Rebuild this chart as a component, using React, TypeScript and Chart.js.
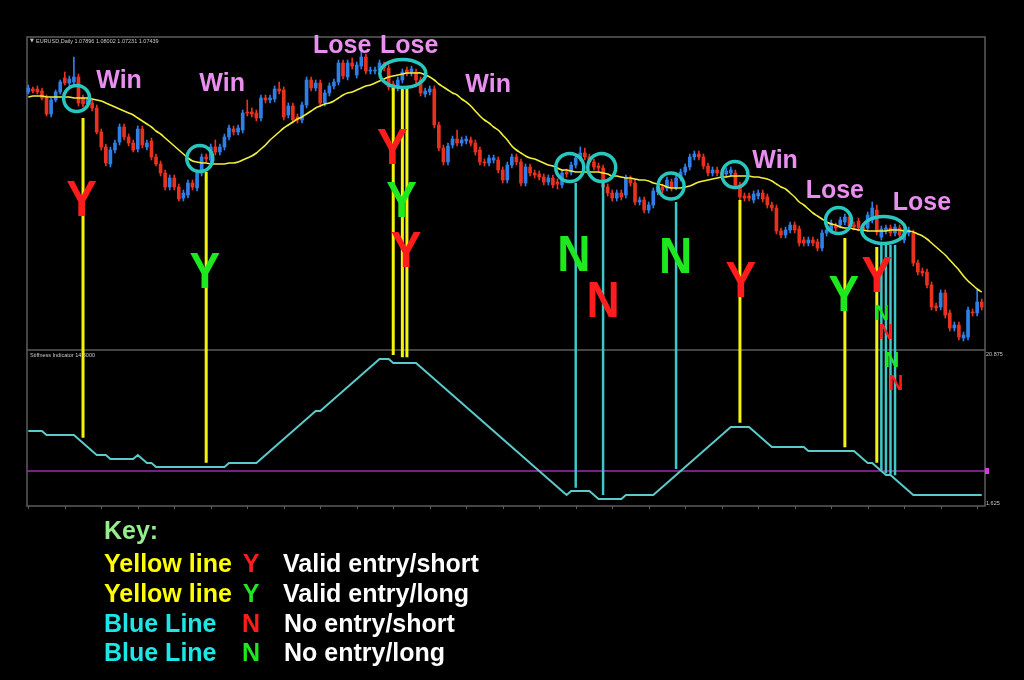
import React, { useEffect, useRef } from 'react';
import { Chart, registerables } from 'chart.js';

Chart.register(...registerables);

// ---------------- data ----------------
const SYMBOL_HEADER = 'EURUSD,Daily 1.07896 1.08002 1.07231 1.07439';
const INDICATOR_TITLE = 'Stiffness Indicator 14 3000';

const OPEN = [
  1.1316, 1.1322, 1.1322, 1.1318, 1.1304, 1.1272, 1.1300, 1.1316, 1.1344, 1.1334,
  1.1336, 1.1346, 1.1304, 1.1292, 1.1294, 1.1284, 1.1236, 1.1206, 1.1172, 1.1200,
  1.1216, 1.1246, 1.1226, 1.1214, 1.1202, 1.1242, 1.1206, 1.1218, 1.1186, 1.1172,
  1.1154, 1.1126, 1.1144, 1.1126, 1.1104, 1.1110, 1.1134, 1.1124, 1.1154, 1.1186,
  1.1180, 1.1206, 1.1196, 1.1206, 1.1226, 1.1242, 1.1236, 1.1240, 1.1276, 1.1276,
  1.1274, 1.1264, 1.1304, 1.1300, 1.1302, 1.1322, 1.1320, 1.1270, 1.1288, 1.1266,
  1.1260, 1.1290, 1.1340, 1.1324, 1.1334, 1.1294, 1.1314, 1.1328, 1.1336, 1.1374,
  1.1346, 1.1374, 1.1350, 1.1368, 1.1386, 1.1358, 1.1358, 1.1360, 1.1370, 1.1364,
  1.1332, 1.1324, 1.1340, 1.1360, 1.1354, 1.1356, 1.1340, 1.1312, 1.1316, 1.1322,
  1.1250, 1.1204, 1.1176, 1.1210, 1.1222, 1.1214, 1.1218, 1.1220, 1.1214, 1.1200,
  1.1176, 1.1174, 1.1180, 1.1180, 1.1160, 1.1140, 1.1170, 1.1186, 1.1176, 1.1134,
  1.1166, 1.1154, 1.1152, 1.1146, 1.1136, 1.1144, 1.1136, 1.1130, 1.1156, 1.1156,
  1.1170, 1.1184, 1.1194, 1.1186, 1.1176, 1.1168, 1.1164, 1.1126, 1.1114, 1.1104,
  1.1114, 1.1110, 1.1142, 1.1134, 1.1096, 1.1100, 1.1080, 1.1090, 1.1116, 1.1126,
  1.1124, 1.1136, 1.1126, 1.1144, 1.1156, 1.1166, 1.1186, 1.1192, 1.1186, 1.1168,
  1.1154, 1.1160, 1.1154, 1.1152, 1.1154, 1.1154, 1.1130, 1.1108, 1.1108, 1.1100,
  1.1108, 1.1114, 1.1106, 1.1090, 1.1084, 1.1038, 1.1030, 1.1040, 1.1050, 1.1042,
  1.1020, 1.1014, 1.1020, 1.1016, 1.1004, 1.1034, 1.1040, 1.1048, 1.1050, 1.1056,
  1.1066, 1.1050, 1.1058, 1.1046, 1.1044, 1.1060, 1.1080, 1.1026, 1.1038, 1.1044,
  1.1034, 1.1044, 1.1020, 1.1034, 1.1034, 1.0974, 1.0958, 1.0956, 1.0930, 1.0888,
  1.0886, 1.0914, 1.0874, 1.0844, 1.0850, 1.0824, 1.0826, 1.0876, 1.0874, 1.0896,
];

const HIGH = [
  1.1330, 1.1326, 1.1328, 1.1324, 1.1310, 1.1304, 1.1320, 1.1340, 1.1356, 1.1348,
  1.1386, 1.1352, 1.1310, 1.1306, 1.1300, 1.1290, 1.1242, 1.1212, 1.1206, 1.1220,
  1.1252, 1.1252, 1.1232, 1.1220, 1.1248, 1.1248, 1.1220, 1.1224, 1.1192, 1.1178,
  1.1160, 1.1150, 1.1150, 1.1132, 1.1120, 1.1140, 1.1140, 1.1160, 1.1192, 1.1192,
  1.1212, 1.1220, 1.1212, 1.1232, 1.1250, 1.1248, 1.1250, 1.1280, 1.1300, 1.1284,
  1.1280, 1.1310, 1.1310, 1.1310, 1.1328, 1.1336, 1.1326, 1.1294, 1.1294, 1.1272,
  1.1296, 1.1346, 1.1346, 1.1340, 1.1340, 1.1320, 1.1334, 1.1342, 1.1380, 1.1380,
  1.1380, 1.1384, 1.1376, 1.1396, 1.1392, 1.1366, 1.1366, 1.1380, 1.1376, 1.1370,
  1.1338, 1.1346, 1.1362, 1.1366, 1.1368, 1.1362, 1.1346, 1.1324, 1.1328, 1.1328,
  1.1256, 1.1210, 1.1214, 1.1228, 1.1240, 1.1226, 1.1228, 1.1226, 1.1220, 1.1206,
  1.1182, 1.1190, 1.1190, 1.1186, 1.1166, 1.1176, 1.1192, 1.1192, 1.1182, 1.1172,
  1.1172, 1.1160, 1.1158, 1.1152, 1.1150, 1.1150, 1.1142, 1.1160, 1.1162, 1.1176,
  1.1190, 1.1206, 1.1204, 1.1192, 1.1182, 1.1174, 1.1170, 1.1132, 1.1120, 1.1120,
  1.1120, 1.1150, 1.1148, 1.1140, 1.1106, 1.1106, 1.1096, 1.1124, 1.1132, 1.1132,
  1.1146, 1.1142, 1.1150, 1.1162, 1.1172, 1.1192, 1.1198, 1.1198, 1.1192, 1.1174,
  1.1166, 1.1166, 1.1160, 1.1164, 1.1166, 1.1160, 1.1136, 1.1114, 1.1114, 1.1118,
  1.1120, 1.1120, 1.1112, 1.1096, 1.1090, 1.1044, 1.1046, 1.1056, 1.1056, 1.1048,
  1.1026, 1.1026, 1.1026, 1.1022, 1.1040, 1.1046, 1.1060, 1.1054, 1.1066, 1.1072,
  1.1072, 1.1056, 1.1064, 1.1052, 1.1076, 1.1096, 1.1090, 1.1048, 1.1050, 1.1050,
  1.1052, 1.1050, 1.1046, 1.1046, 1.1040, 1.0980, 1.0964, 1.0962, 1.0936, 1.0894,
  1.0920, 1.0920, 1.0880, 1.0856, 1.0856, 1.0836, 1.0886, 1.0882, 1.0920, 1.0902,
];

const LOW = [
  1.1312, 1.1314, 1.1312, 1.1300, 1.1268, 1.1266, 1.1296, 1.1312, 1.1330, 1.1328,
  1.1332, 1.1288, 1.1286, 1.1286, 1.1278, 1.1232, 1.1200, 1.1168, 1.1166, 1.1194,
  1.1210, 1.1220, 1.1208, 1.1196, 1.1196, 1.1204, 1.1200, 1.1180, 1.1168, 1.1148,
  1.1120, 1.1120, 1.1120, 1.1098, 1.1098, 1.1104, 1.1120, 1.1118, 1.1148, 1.1176,
  1.1174, 1.1190, 1.1190, 1.1200, 1.1220, 1.1230, 1.1230, 1.1234, 1.1268, 1.1266,
  1.1258, 1.1258, 1.1294, 1.1294, 1.1296, 1.1312, 1.1260, 1.1264, 1.1254, 1.1254,
  1.1254, 1.1284, 1.1318, 1.1318, 1.1288, 1.1288, 1.1308, 1.1322, 1.1330, 1.1342,
  1.1340, 1.1362, 1.1344, 1.1362, 1.1352, 1.1352, 1.1352, 1.1354, 1.1358, 1.1320,
  1.1314, 1.1318, 1.1334, 1.1348, 1.1348, 1.1334, 1.1308, 1.1306, 1.1310, 1.1244,
  1.1198, 1.1170, 1.1170, 1.1204, 1.1208, 1.1208, 1.1212, 1.1208, 1.1190, 1.1170,
  1.1168, 1.1168, 1.1174, 1.1154, 1.1134, 1.1134, 1.1164, 1.1170, 1.1128, 1.1128,
  1.1148, 1.1144, 1.1140, 1.1130, 1.1130, 1.1124, 1.1122, 1.1124, 1.1146, 1.1150,
  1.1164, 1.1178, 1.1180, 1.1170, 1.1160, 1.1158, 1.1120, 1.1108, 1.1098, 1.1098,
  1.1100, 1.1104, 1.1128, 1.1090, 1.1090, 1.1074, 1.1074, 1.1084, 1.1110, 1.1114,
  1.1118, 1.1118, 1.1120, 1.1138, 1.1150, 1.1160, 1.1180, 1.1180, 1.1162, 1.1148,
  1.1148, 1.1148, 1.1142, 1.1146, 1.1148, 1.1124, 1.1100, 1.1098, 1.1098, 1.1094,
  1.1102, 1.1096, 1.1084, 1.1078, 1.1032, 1.1024, 1.1024, 1.1034, 1.1034, 1.1008,
  1.1008, 1.1008, 1.1008, 1.0998, 1.0998, 1.1028, 1.1034, 1.1038, 1.1044, 1.1050,
  1.1042, 1.1040, 1.1038, 1.1036, 1.1038, 1.1054, 1.1030, 1.1020, 1.1032, 1.1028,
  1.1028, 1.1024, 1.1014, 1.1028, 1.0968, 1.0950, 1.0948, 1.0924, 1.0880, 1.0878,
  1.0880, 1.0864, 1.0838, 1.0838, 1.0820, 1.0818, 1.0820, 1.0868, 1.0868, 1.0880,
];

const CLOSE = [
  1.1324, 1.1318, 1.1316, 1.1304, 1.1272, 1.1300, 1.1316, 1.1336, 1.1334, 1.1342,
  1.1346, 1.1294, 1.1292, 1.1302, 1.1284, 1.1236, 1.1206, 1.1174, 1.1200, 1.1214,
  1.1246, 1.1226, 1.1214, 1.1200, 1.1242, 1.1210, 1.1214, 1.1186, 1.1172, 1.1154,
  1.1126, 1.1144, 1.1126, 1.1102, 1.1114, 1.1134, 1.1126, 1.1154, 1.1186, 1.1182,
  1.1206, 1.1196, 1.1206, 1.1226, 1.1244, 1.1236, 1.1244, 1.1274, 1.1274, 1.1272,
  1.1264, 1.1304, 1.1300, 1.1304, 1.1322, 1.1318, 1.1266, 1.1288, 1.1260, 1.1260,
  1.1290, 1.1340, 1.1324, 1.1334, 1.1294, 1.1314, 1.1328, 1.1336, 1.1374, 1.1348,
  1.1374, 1.1368, 1.1370, 1.1386, 1.1358, 1.1360, 1.1360, 1.1374, 1.1364, 1.1326,
  1.1320, 1.1340, 1.1356, 1.1354, 1.1362, 1.1340, 1.1314, 1.1318, 1.1322, 1.1250,
  1.1204, 1.1176, 1.1208, 1.1222, 1.1214, 1.1220, 1.1222, 1.1214, 1.1196, 1.1176,
  1.1174, 1.1184, 1.1184, 1.1160, 1.1140, 1.1170, 1.1186, 1.1176, 1.1134, 1.1166,
  1.1154, 1.1150, 1.1146, 1.1136, 1.1144, 1.1130, 1.1132, 1.1154, 1.1152, 1.1170,
  1.1184, 1.1194, 1.1186, 1.1176, 1.1166, 1.1164, 1.1126, 1.1114, 1.1104, 1.1114,
  1.1106, 1.1144, 1.1134, 1.1096, 1.1100, 1.1080, 1.1090, 1.1118, 1.1126, 1.1120,
  1.1140, 1.1124, 1.1144, 1.1156, 1.1166, 1.1186, 1.1192, 1.1186, 1.1168, 1.1154,
  1.1160, 1.1154, 1.1148, 1.1158, 1.1160, 1.1130, 1.1106, 1.1104, 1.1104, 1.1112,
  1.1114, 1.1102, 1.1090, 1.1084, 1.1038, 1.1030, 1.1040, 1.1050, 1.1040, 1.1014,
  1.1014, 1.1020, 1.1014, 1.1004, 1.1034, 1.1040, 1.1054, 1.1044, 1.1060, 1.1066,
  1.1048, 1.1046, 1.1044, 1.1042, 1.1070, 1.1084, 1.1036, 1.1042, 1.1044, 1.1034,
  1.1046, 1.1030, 1.1040, 1.1040, 1.0974, 1.0956, 1.0954, 1.0930, 1.0886, 1.0884,
  1.0914, 1.0870, 1.0844, 1.0850, 1.0826, 1.0830, 1.0880, 1.0874, 1.0896, 1.0886,
];

const SMA = [
  1.1306, 1.1308, 1.1308, 1.1308, 1.1306, 1.1306, 1.1306, 1.1306, 1.1306, 1.1306,
  1.1304, 1.1304, 1.1304, 1.1304, 1.1302, 1.1300, 1.1298, 1.1294, 1.1290, 1.1286,
  1.1282, 1.1278, 1.1274, 1.1270, 1.1264, 1.1258, 1.1252, 1.1246, 1.1238, 1.1232,
  1.1224, 1.1216, 1.1208, 1.1200, 1.1192, 1.1184, 1.1178, 1.1176, 1.1174, 1.1174,
  1.1172, 1.1172, 1.1172, 1.1172, 1.1174, 1.1174, 1.1176, 1.1180, 1.1184, 1.1188,
  1.1194, 1.1202, 1.1210, 1.1220, 1.1228, 1.1236, 1.1244, 1.1250, 1.1256, 1.1262,
  1.1266, 1.1272, 1.1278, 1.1284, 1.1288, 1.1292, 1.1294, 1.1298, 1.1304, 1.1310,
  1.1314, 1.1316, 1.1320, 1.1324, 1.1328, 1.1330, 1.1334, 1.1338, 1.1342, 1.1346,
  1.1348, 1.1350, 1.1352, 1.1354, 1.1354, 1.1354, 1.1354, 1.1350, 1.1346, 1.1340,
  1.1332, 1.1326, 1.1320, 1.1314, 1.1310, 1.1302, 1.1296, 1.1288, 1.1278, 1.1268,
  1.1260, 1.1254, 1.1246, 1.1240, 1.1230, 1.1220, 1.1208, 1.1200, 1.1194, 1.1188,
  1.1184, 1.1182, 1.1178, 1.1174, 1.1170, 1.1168, 1.1164, 1.1160, 1.1160, 1.1158,
  1.1156, 1.1156, 1.1156, 1.1156, 1.1156, 1.1156, 1.1154, 1.1152, 1.1148, 1.1148,
  1.1146, 1.1144, 1.1144, 1.1142, 1.1140, 1.1140, 1.1138, 1.1134, 1.1132, 1.1130,
  1.1126, 1.1124, 1.1124, 1.1124, 1.1126, 1.1128, 1.1132, 1.1136, 1.1138, 1.1140,
  1.1142, 1.1144, 1.1146, 1.1146, 1.1148, 1.1148, 1.1148, 1.1148, 1.1148, 1.1146,
  1.1146, 1.1144, 1.1142, 1.1138, 1.1132, 1.1126, 1.1122, 1.1114, 1.1106, 1.1096,
  1.1090, 1.1082, 1.1074, 1.1068, 1.1062, 1.1056, 1.1052, 1.1050, 1.1046, 1.1044,
  1.1044, 1.1042, 1.1040, 1.1040, 1.1038, 1.1038, 1.1038, 1.1038, 1.1038, 1.1040,
  1.1040, 1.1040, 1.1038, 1.1038, 1.1036, 1.1032, 1.1028, 1.1022, 1.1014, 1.1006,
  1.0998, 1.0990, 1.0980, 1.0970, 1.0960, 1.0948, 1.0938, 1.0930, 1.0922, 1.0916,
];

const STIFFNESS = [
  10.875, 10.875, 10.875, 10.875, 10.375, 10.375, 10.375, 10.375, 10.375, 10.375,
  10.375, 9.875, 9.375, 8.875, 8.375, 7.875, 7.875, 7.875, 7.375, 7.375,
  7.375, 7.375, 7.375, 7.375, 7.875, 7.375, 6.875, 6.875, 6.375, 6.375,
  6.375, 6.375, 6.375, 6.375, 6.375, 6.375, 6.375, 6.375, 6.375, 6.375,
  6.375, 6.375, 6.375, 6.375, 6.875, 6.875, 6.875, 6.875, 6.875, 6.875,
  6.875, 7.375, 7.875, 8.375, 8.875, 9.375, 9.875, 10.375, 10.875, 11.375,
  11.875, 12.375, 12.875, 13.375, 13.375, 13.875, 14.375, 14.875, 15.375, 15.875,
  16.375, 16.875, 17.375, 17.875, 18.375, 18.875, 19.375, 19.875, 19.875, 19.875,
  19.375, 19.375, 19.375, 19.375, 19.375, 19.375, 18.875, 18.375, 17.875, 17.375,
  16.875, 16.375, 15.875, 15.375, 14.875, 14.375, 13.875, 13.375, 12.875, 12.375,
  11.875, 11.375, 10.875, 10.375, 9.875, 9.375, 8.875, 8.375, 7.875, 7.375,
  6.875, 6.375, 5.875, 5.375, 4.875, 4.375, 3.875, 3.375, 2.875, 3.375,
  3.375, 3.375, 3.375, 3.375, 2.875, 2.375, 2.375, 2.375, 2.375, 2.375,
  2.375, 2.875, 2.875, 2.875, 2.875, 2.875, 2.875, 2.875, 3.375, 3.875,
  4.375, 4.875, 5.375, 5.875, 6.375, 6.875, 7.375, 7.875, 8.375, 8.875,
  9.375, 9.875, 10.375, 10.875, 11.375, 11.375, 11.375, 11.375, 11.375, 10.875,
  10.375, 9.875, 9.375, 8.875, 8.875, 8.875, 8.875, 8.875, 8.875, 8.875,
  8.875, 8.375, 8.375, 8.375, 8.375, 8.375, 8.375, 8.375, 8.375, 8.375,
  8.375, 8.375, 7.875, 7.375, 6.875, 6.875, 6.375, 5.875, 5.375, 5.375,
  4.875, 4.375, 3.875, 3.375, 2.875, 2.875, 2.875, 2.875, 2.875, 2.875,
  2.875, 2.875, 2.875, 2.875, 2.875, 2.875, 2.875, 2.875, 2.875, 2.875,
];

const THRESHOLD = 5.875;
const IND_TOP_LABEL = 20.875;
const IND_BOTTOM_LABEL = 1.625;
const PANE_SPLIT = 21.0;

// signal lines: bar index, kind, top (price), bottom (indicator value)
const SIGNAL_BARS = [12, 39, 80, 82, 83, 120, 126, 142, 156, 179, 186, 187, 188, 189, 190];
const SIGNAL_KIND = ['valid', 'valid', 'valid', 'valid', 'valid', 'none', 'none', 'none', 'valid', 'valid', 'valid', 'none', 'none', 'none', 'none'];
const SIGNAL_TOP = [1.1264, 1.1156, 1.1324, 1.1324, 1.1324, 1.1134, 1.1136, 1.1096, 1.1100, 1.1024, 1.1006, 1.1010, 1.1010, 1.1010, 1.1010];
const SIGNAL_BOTTOM = [10.04, 6.91, 20.375, 20.09, 20.09, 3.79, 2.875, 6.125, 11.91, 8.84, 6.91, 6.0, 5.59, 5.46, 5.34];

// highlighted entry zones
const RING_BARS = [10.6, 37.6, 82.1, 118.7, 125.7, 140.9, 154.9, 177.6, 187.5];
const RING_PRICES = [1.1303, 1.1183, 1.1353, 1.1165, 1.1165, 1.1128, 1.1151, 1.1059, 1.1040];

// trade outcomes
const OUTCOME_TEXT = ['Win', 'Win', 'Lose', 'Lose', 'Win', 'Win', 'Lose', 'Lose'];
const OUTCOME_BARS = [19.9, 42.5, 68.8, 83.5, 100.8, 163.7, 176.8, 195.9];
const OUTCOME_PRICES = [1.1338, 1.1332, 1.1408, 1.1408, 1.1330, 1.1178, 1.1118, 1.1094];

// Y / N markers
const MARK_TEXT = ['Y', 'Y', 'Y', 'Y', 'Y', 'N', 'N', 'N', 'Y', 'Y', 'Y', 'N', 'N', 'N', 'N'];
const MARK_SIDE = ['short', 'long', 'short', 'long', 'short', 'long', 'short', 'long', 'short', 'long', 'short', 'long', 'short', 'long', 'short'];
const MARK_BARS = [11.7, 38.7, 79.8, 81.85, 82.8, 119.6, 126.0, 141.9, 156.2, 178.8, 186.0, 187.1, 188.0, 189.3, 190.2];
const MARK_PRICES = [1.1096, 1.0952, 1.1200, 1.1094, 1.0994, 1.0986, 1.0894, 1.0982, 1.0934, 1.0906, 1.0944, 1.0872, 1.0834, 1.0778, 1.0732];

// key
const KEY_TITLE = 'Key:';
const KEY_LINES = ['Yellow line', 'Yellow line', 'Blue Line', 'Blue Line'];
const KEY_LETTERS = ['Y', 'Y', 'N', 'N'];
const KEY_SIDES = ['short', 'long', 'short', 'long'];
const KEY_DESCS = ['Valid entry/short', 'Valid entry/long', 'No entry/short', 'No entry/long'];

// ---------------- styles ----------------
const RING_SIZES = [[13, 13], [13, 13], [23, 14], [14, 14], [14, 14], [13, 13], [13, 13], [13, 13], [22, 13.5]];
const MARK_SIZES = [46, 46, 46, 46, 46, 46, 46, 46, 46, 46, 46, 20, 20, 20, 20];
const FONT = "'Liberation Sans', Arial, sans-serif";
const BULL = '#2f7fe8';
const BEAR = '#e8321f';
const RED_TXT = '#ff1c1c';
const GREEN_TXT = '#1ee81e';
const FRAME = '#5c5c5c';

const overlay = {
  id: 'overlay',
  beforeDatasetsDraw(chart: any) {
    const { ctx, chartArea: a, scales } = chart;
    const xs = scales.x;
    const i2 = scales.y2;
    ctx.save();
    ctx.strokeStyle = FRAME;
    ctx.lineWidth = 1.5;
    ctx.beginPath();
    ctx.moveTo(a.left + 1, a.top - 1);
    ctx.lineTo(a.right + 1, a.top - 1);
    ctx.lineTo(a.right + 1, a.bottom);
    ctx.lineTo(a.left + 1, a.bottom);
    ctx.closePath();
    const split = i2.getPixelForValue(PANE_SPLIT);
    ctx.moveTo(a.left + 1, split);
    ctx.lineTo(a.right + 1, split);
    ctx.stroke();
    ctx.lineWidth = 1;
    ctx.beginPath();
    for (let i = 0; i < OPEN.length; i += 8) {
      const px = Math.round(xs.getPixelForValue(i)) + 0.5;
      ctx.moveTo(px, a.bottom);
      ctx.lineTo(px, a.bottom + 3);
    }
    ctx.stroke();
    const ty = i2.getPixelForValue(THRESHOLD);
    ctx.strokeStyle = '#a02cb0';
    ctx.lineWidth = 1.5;
    ctx.beginPath();
    ctx.moveTo(a.left + 1, ty);
    ctx.lineTo(a.right + 1, ty);
    ctx.stroke();
    ctx.fillStyle = '#d83cd8';
    ctx.fillRect(a.right + 1, ty - 3, 4, 6);
    ctx.restore();
  },
  afterDatasetsDraw(chart: any) {
    const { ctx, scales } = chart;
    const xs = scales.x;
    const ys = scales.y;
    const i2 = scales.y2;
    ctx.save();
    SIGNAL_BARS.forEach((b, k) => {
      const px = xs.getPixelForValue(b);
      const top = ys.getPixelForValue(SIGNAL_TOP[k]);
      const bot = i2.getPixelForValue(SIGNAL_BOTTOM[k]);
      const valid = SIGNAL_KIND[k] === 'valid';
      ctx.strokeStyle = valid ? '#f4f40a' : '#3ec6c8';
      ctx.lineWidth = valid ? 3 : 2.5;
      ctx.beginPath();
      ctx.moveTo(px, top);
      ctx.lineTo(px, bot);
      ctx.stroke();
    });
    ctx.strokeStyle = '#28c6be';
    ctx.lineWidth = 3.5;
    RING_BARS.forEach((b, k) => {
      const px = xs.getPixelForValue(b);
      const py = ys.getPixelForValue(RING_PRICES[k]);
      ctx.beginPath();
      ctx.ellipse(px, py, RING_SIZES[k][0], RING_SIZES[k][1], 0, 0, Math.PI * 2);
      ctx.stroke();
    });
    ctx.textAlign = 'center';
    ctx.textBaseline = 'middle';
    MARK_TEXT.forEach((t, k) => {
      const px = xs.getPixelForValue(MARK_BARS[k]);
      const py = ys.getPixelForValue(MARK_PRICES[k]);
      ctx.save();
      ctx.translate(px, py);
      ctx.scale(1, 1.1);
      ctx.font = `bold ${MARK_SIZES[k]}px ${FONT}`;
      ctx.fillStyle = MARK_SIDE[k] === 'short' ? RED_TXT : GREEN_TXT;
      ctx.fillText(t, 0, 0);
      ctx.restore();
    });
    ctx.font = `bold 25px ${FONT}`;
    ctx.fillStyle = '#ea8ef0';
    OUTCOME_TEXT.forEach((t, k) => {
      const px = xs.getPixelForValue(OUTCOME_BARS[k]);
      const py = ys.getPixelForValue(OUTCOME_PRICES[k]);
      ctx.fillText(t, px, py);
    });
    ctx.restore();
  },
  afterDraw(chart: any) {
    const { ctx, chartArea: a, scales } = chart;
    const i2 = scales.y2;
    ctx.save();
    ctx.fillStyle = '#c8c8c8';
    ctx.textBaseline = 'middle';
    ctx.textAlign = 'left';
    ctx.font = `5px 'DejaVu Sans', sans-serif`;
    ctx.fillText('\u25BC', a.left + 4, a.top + 3);
    ctx.font = `5.5px ${FONT}`;
    ctx.fillText(SYMBOL_HEADER, a.left + 10, a.top + 3);
    ctx.fillText(INDICATOR_TITLE, a.left + 4, i2.getPixelForValue(PANE_SPLIT) + 5);
    ctx.fillText(String(IND_TOP_LABEL), a.right + 2, i2.getPixelForValue(IND_TOP_LABEL) + 3);
    ctx.fillText(String(IND_BOTTOM_LABEL), a.right + 2, i2.getPixelForValue(IND_BOTTOM_LABEL) - 2);

    ctx.textBaseline = 'alphabetic';
    ctx.font = `bold 25px ${FONT}`;
    ctx.fillStyle = '#98ec90';
    ctx.fillText(KEY_TITLE, 104, 539);
    const baselines = [572, 601.5, 631.5, 660.5];
    KEY_LINES.forEach((t, k) => {
      ctx.textAlign = 'left';
      ctx.fillStyle = k < 2 ? '#ffff00' : '#1ee6e6';
      ctx.fillText(t, 104, baselines[k]);
      ctx.textAlign = 'center';
      ctx.fillStyle = KEY_SIDES[k] === 'short' ? RED_TXT : GREEN_TXT;
      ctx.fillText(KEY_LETTERS[k], 251, baselines[k]);
      ctx.textAlign = 'left';
      ctx.fillStyle = '#ffffff';
      ctx.fillText(KEY_DESCS[k], k < 2 ? 283 : 284, baselines[k]);
    });
    ctx.restore();
  },
};

export default function App() {
  const ref = useRef<HTMLCanvasElement | null>(null);
  useEffect(() => {
    document.body.style.margin = '0';
    document.body.style.background = '#000';
    const canvas = ref.current;
    if (!canvas) return;
    const colors = OPEN.map((o, i) => (CLOSE[i] >= o ? BULL : BEAR));
    const chart = new Chart(canvas, {
      type: 'bar',
      data: {
        datasets: [
          {
            type: 'line',
            label: 'SMA',
            data: SMA.map((v, i) => ({ x: i, y: v })),
            borderColor: '#f0f03a',
            borderWidth: 1.6,
            pointRadius: 0,
            tension: 0.3,
            yAxisID: 'y',
            order: 0,
          } as any,
          {
            type: 'line',
            label: 'Stiffness',
            data: STIFFNESS.map((v, i) => ({ x: i, y: v })),
            borderColor: '#5ccaca',
            borderWidth: 2,
            pointRadius: 0,
            tension: 0,
            yAxisID: 'y2',
            order: 0,
          } as any,
          {
            type: 'bar',
            label: 'Body',
            data: OPEN.map((o, i) => ({ x: i, y: [o, Math.abs(CLOSE[i] - o) < 0.0001 ? o + 0.00012 : CLOSE[i]] })),
            backgroundColor: colors,
            borderWidth: 0,
            barThickness: 3,
            grouped: false,
            yAxisID: 'y',
            order: 1,
          } as any,
          {
            type: 'bar',
            label: 'Wick',
            data: LOW.map((l, i) => ({ x: i, y: [l, HIGH[i]] })),
            backgroundColor: colors,
            borderWidth: 0,
            barThickness: 1,
            grouped: false,
            yAxisID: 'y',
            order: 2,
          } as any,
        ],
      },
      options: {
        responsive: false,
        animation: false,
        devicePixelRatio: 1,
        events: [],
        layout: { padding: { left: 26, right: 40, top: 38, bottom: 174 } },
        plugins: { legend: { display: false }, tooltip: { enabled: false } },
        scales: {
          x: { type: 'linear', min: -0.5, max: 209.5, display: false, offset: false },
          y: { type: 'linear', min: 1.0488, max: 1.1424, display: false },
          y2: { type: 'linear', min: 1.5, max: 60, display: false },
        },
      } as any,
      plugins: [overlay],
    });
    return () => chart.destroy();
  }, []);
  return (
    <div style={{ position: 'fixed', left: 0, top: 0, width: 1024, height: 680, background: '#000' }}>
      <canvas ref={ref} width={1024} height={680} style={{ display: 'block' }} />
    </div>
  );
}
